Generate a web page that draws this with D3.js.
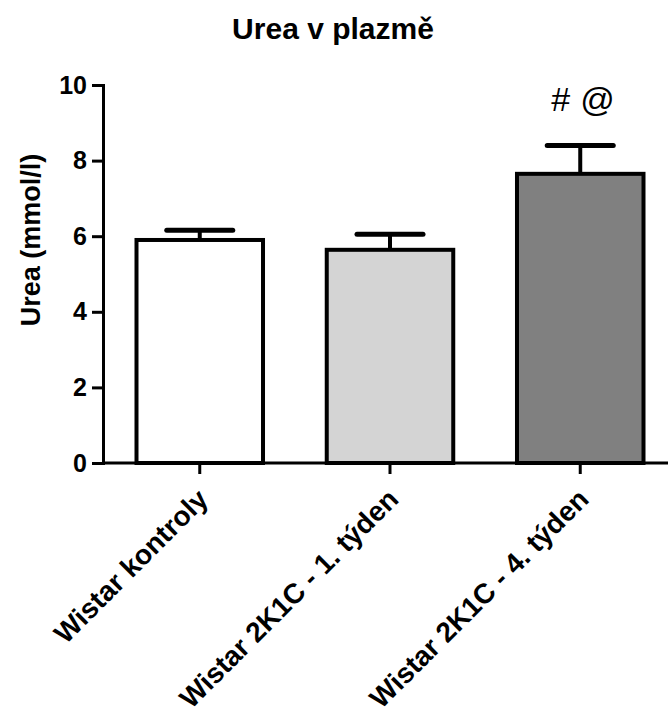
<!DOCTYPE html>
<html>
<head>
<meta charset="utf-8">
<script src="https://cdn.jsdelivr.net/npm/d3@7"></script>
<style>
  body { margin: 0; background: #fff; }
  text { font-family: "Liberation Sans", Arial, sans-serif; }
</style>
</head>
<body>
<div id="chart"></div>
<script>
// Data
const groups = ["Wistar kontroly", "Wistar 2K1C - 1. týden", "Wistar 2K1C - 4. týden"];
const means = [5.9, 5.64, 7.65];
const sems = [0.26, 0.41, 0.75];
const fills = ["#ffffff", "#d4d4d4", "#808080"];
const marks = ["", "", "#@"];
const yTicks = [0, 2, 4, 6, 8, 10];

const width = 668;
const height = 722;

const svg = d3.select("#chart")
    .append("svg")
    .attr("width", width)
    .attr("height", height);

// Scales
const y = d3.scaleLinear()
    .domain([0, 10])
    .range([463, 85]);

const x = d3.scaleBand()
    .domain(groups)
    .range([136.5, 643.5])
    .paddingInner(0.335)
    .paddingOuter(0);

const axisX0 = 103;

// Title
svg.append("text")
    .attr("x", 333)
    .attr("y", 39)
    .attr("text-anchor", "middle")
    .attr("font-size", "30px")
    .attr("font-weight", "bold")
    .text("Urea v plazmě");

// Y axis label
svg.append("text")
    .attr("transform", "translate(40,240) rotate(-90)")
    .attr("text-anchor", "middle")
    .attr("font-size", "27px")
    .attr("font-weight", "bold")
    .text("Urea (mmol/l)");

// Y axis
const yAxis = svg.append("g")
    .attr("transform", `translate(${axisX0},0)`)
    .call(d3.axisLeft(y).tickValues(yTicks).tickSize(11).tickSizeOuter(0).tickPadding(5));

yAxis.select(".domain").attr("stroke-width", 3).attr("stroke-linecap", "square");
yAxis.selectAll(".tick line").attr("stroke-width", 3);
yAxis.selectAll(".tick text")
    .attr("font-size", "25px")
    .attr("font-weight", "bold")
    .attr("font-family", "Liberation Sans, Arial, sans-serif")
    .attr("fill", "#000");

// Bars
svg.append("g").selectAll("rect")
    .data(groups)
    .join("rect")
    .attr("x", d => x(d))
    .attr("y", (d, i) => y(means[i]))
    .attr("width", x.bandwidth())
    .attr("height", (d, i) => y(0) - y(means[i]))
    .attr("fill", (d, i) => fills[i])
    .attr("stroke", "#000")
    .attr("stroke-width", 4);

// Error bars (upper only)
const err = svg.append("g").attr("stroke", "#000");
groups.forEach((g, i) => {
    const cx = x(g) + x.bandwidth() / 2;
    err.append("line")
        .attr("x1", cx).attr("x2", cx)
        .attr("y1", y(means[i]))
        .attr("y2", y(means[i] + sems[i]))
        .attr("stroke-width", 4);
    err.append("line")
        .attr("x1", cx - 33).attr("x2", cx + 33)
        .attr("y1", y(means[i] + sems[i]))
        .attr("y2", y(means[i] + sems[i]))
        .attr("stroke-width", 5)
        .attr("stroke-linecap", "round");
});

// Significance marks
svg.append("g").selectAll("text")
    .data(groups)
    .join("text")
    .attr("x", d => x(d) + x.bandwidth() / 2 - 29)
    .attr("y", (d, i) => y(means[i] + sems[i]) - 34)
    .attr("font-size", "34px")
    .attr("letter-spacing", "10px")
    .text((d, i) => marks[i]);

// X axis
svg.append("line")
    .attr("x1", axisX0)
    .attr("x2", width)
    .attr("y1", y(0))
    .attr("y2", y(0))
    .attr("stroke", "#000")
    .attr("stroke-width", 3);

const xAxis = svg.append("g")
    .attr("transform", `translate(0,${y(0)})`)
    .call(d3.axisBottom(x).tickSize(11).tickSizeOuter(0));

xAxis.select(".domain").remove();
xAxis.selectAll(".tick line").attr("stroke-width", 3);
xAxis.selectAll(".tick text")
    .attr("font-size", "28px")
    .attr("font-weight", "bold")
    .attr("font-family", "Liberation Sans, Arial, sans-serif")
    .attr("fill", "#000")
    .attr("text-anchor", "end")
    .attr("dy", null)
    .attr("y", null)
    .attr("transform", "translate(10,38) rotate(-45)");
</script>
</body>
</html>
